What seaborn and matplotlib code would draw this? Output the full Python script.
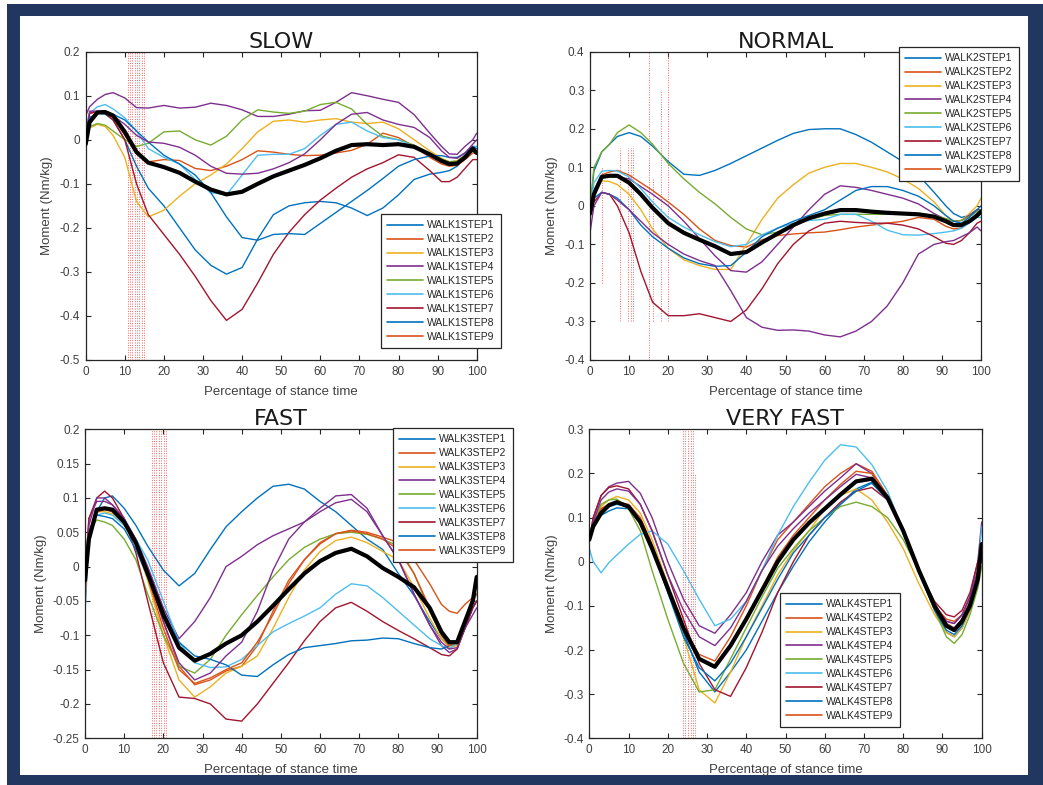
import matplotlib
matplotlib.use("Agg")
import matplotlib.pyplot as plt
from matplotlib.lines import Line2D
from matplotlib.patches import Rectangle
from matplotlib.ticker import FuncFormatter, MultipleLocator
import numpy as np
import pandas as pd
import seaborn as sns

# ---------------------------------------------------------------- data
# percentage of stance time at which every curve is sampled
PCT = [0, 1, 3, 5, 7, 10, 13, 16, 20, 24, 28, 32, 36, 40, 44, 48, 52, 56,
       60, 64, 68, 72, 76, 80, 84, 88, 91, 93, 95, 97, 99, 100]

# MATLAB default line colour order
MATLAB_ORDER = ["#0072BD", "#D95319", "#EDB120", "#7E2F8E",
                "#77AC30", "#4DBEEE", "#A2142F"]

# ---- SLOW (walk 1)
SLOW_MEAN = [-0.01, 0.04, 0.062, 0.063, 0.055, 0.018, -0.028, -0.052, -0.062, -0.075, -0.095, -0.113,
             -0.124, -0.118, -0.1, -0.083, -0.07, -0.057, -0.042, -0.025, -0.012, -0.01, -0.012, -0.01,
             -0.016, -0.033, -0.048, -0.055, -0.054, -0.04, -0.02, -0.03]
SLOW_STEPS = [
    [0.0, 0.05, 0.06, 0.058, 0.045, 0.0, -0.06, -0.11, -0.15, -0.2, -0.25, -0.285, -0.305, -0.29, -0.225,
     -0.17, -0.15, -0.143, -0.14, -0.143, -0.155, -0.172, -0.155, -0.125, -0.09, -0.078, -0.074, -0.07,
     -0.06, -0.04, -0.02, -0.02],
    [-0.01, 0.06, 0.063, 0.06, 0.05, 0.01, -0.03, -0.05, -0.045, -0.047, -0.065, -0.07, -0.06, -0.045,
     -0.025, -0.028, -0.033, -0.036, -0.035, -0.03, -0.024, -0.01, 0.015, 0.005, -0.015, -0.04, -0.055,
     -0.06, -0.058, -0.045, -0.03, -0.03],
    [0.02, 0.027, 0.035, 0.03, 0.01, -0.04, -0.14, -0.175, -0.16, -0.128, -0.1, -0.08, -0.055, -0.02,
     0.018, 0.042, 0.045, 0.04, 0.045, 0.048, 0.04, 0.037, 0.04, 0.025, 0.0, -0.025, -0.042, -0.05,
     -0.048, -0.035, -0.025, -0.025],
    [0.055, 0.075, 0.092, 0.103, 0.107, 0.095, 0.073, 0.072, 0.078, 0.072, 0.074, 0.083, 0.078, 0.068,
     0.053, 0.053, 0.058, 0.066, 0.067, 0.085, 0.107, 0.1, 0.092, 0.085, 0.057, 0.015, -0.015, -0.032,
     -0.033, -0.015, 0.0, 0.015],
    [0.02, 0.03, 0.037, 0.033, 0.02, 0.0, -0.015, -0.008, 0.018, 0.02, 0.0, -0.012, 0.008, 0.045, 0.068,
     0.063, 0.06, 0.065, 0.08, 0.085, 0.07, 0.035, 0.008, 0.0, -0.012, -0.032, -0.044, -0.05, -0.048,
     -0.035, -0.025, -0.03],
    [0.03, 0.06, 0.075, 0.08, 0.07, 0.05, 0.02, -0.02, -0.04, -0.055, -0.09, -0.12, -0.125, -0.08,
     -0.035, -0.033, -0.033, -0.02, 0.01, 0.035, 0.04, 0.02, 0.005, 0.0, -0.015, -0.035, -0.05, -0.055,
     -0.052, -0.035, -0.015, -0.015],
    [0.0, 0.06, 0.065, 0.06, 0.045, 0.0, -0.1, -0.17, -0.215, -0.26, -0.31, -0.365, -0.41, -0.385,
     -0.325, -0.26, -0.21, -0.17, -0.137, -0.11, -0.085, -0.066, -0.052, -0.034, -0.04, -0.07, -0.095,
     -0.095, -0.085, -0.065, -0.045, -0.045],
    [0.0, 0.05, 0.06, 0.062, 0.058, 0.045, 0.02, -0.005, -0.035, -0.055, -0.08, -0.12, -0.175, -0.222,
     -0.228, -0.215, -0.213, -0.215, -0.19, -0.165, -0.14, -0.115, -0.088, -0.06, -0.045, -0.037,
     -0.036, -0.04, -0.04, -0.03, -0.015, -0.02],
    [0.0, 0.065, 0.065, 0.065, 0.055, 0.035, 0.01, -0.005, -0.008, -0.017, -0.035, -0.06, -0.076,
     -0.078, -0.076, -0.066, -0.052, -0.032, 0.0, 0.035, 0.058, 0.062, 0.045, 0.035, 0.028, 0.005,
     -0.025, -0.04, -0.042, -0.03, -0.01, 0.0],
]
SLOW_COLOR_IDX = [0, 1, 2, 3, 4, 5, 6, 0, 3]
SLOW_EVENTS = [(10.7, -0.5, 0.2), (11.3, -0.5, 0.2), (11.9, -0.5, 0.2), (12.5, -0.5, 0.2),
               (13.1, -0.5, 0.2), (13.7, -0.5, 0.2), (14.3, -0.5, 0.2), (14.9, -0.5, 0.2)]

# ---- NORMAL (walk 2)
NORMAL_MEAN = [-0.02, 0.03, 0.075, 0.078, 0.078, 0.06, 0.03, -0.005, -0.045, -0.07, -0.088, -0.105,
               -0.125, -0.12, -0.095, -0.072, -0.05, -0.032, -0.02, -0.011, -0.011, -0.015, -0.018,
               -0.02, -0.022, -0.028, -0.04, -0.05, -0.05, -0.04, -0.025, -0.015]
NORMAL_STEPS = [
    [-0.01, 0.09, 0.14, 0.16, 0.18, 0.19, 0.18, 0.155, 0.115, 0.082, 0.079, 0.092, 0.11, 0.13, 0.15,
     0.17, 0.188, 0.198, 0.2, 0.2, 0.185, 0.165, 0.14, 0.115, 0.08, 0.035, 0.0, -0.02, -0.03, -0.025,
     -0.01, -0.01],
    [-0.02, 0.04, 0.08, 0.088, 0.092, 0.08, 0.06, 0.04, 0.01, -0.022, -0.06, -0.09, -0.103, -0.107,
     -0.088, -0.077, -0.073, -0.07, -0.068, -0.062, -0.055, -0.05, -0.045, -0.04, -0.03, -0.035,
     -0.053, -0.06, -0.058, -0.04, -0.02, -0.02],
    [-0.02, 0.04, 0.065, 0.063, 0.055, 0.03, -0.01, -0.06, -0.11, -0.14, -0.155, -0.165, -0.165, -0.1,
     -0.035, 0.02, 0.055, 0.085, 0.1, 0.11, 0.11, 0.1, 0.088, 0.07, 0.045, 0.01, -0.025, -0.04, -0.038,
     -0.02, 0.0, 0.02],
    [-0.02, 0.04, 0.075, 0.078, 0.075, 0.07, 0.05, 0.03, 0.0, -0.04, -0.085, -0.13, -0.168, -0.172,
     -0.145, -0.1, -0.055, -0.01, 0.03, 0.052, 0.048, 0.04, 0.03, 0.02, 0.005, -0.02, -0.035, -0.04,
     -0.038, -0.025, -0.01, -0.01],
    [-0.01, 0.1, 0.14, 0.16, 0.19, 0.21, 0.19, 0.16, 0.11, 0.07, 0.035, 0.005, -0.03, -0.06, -0.075,
     -0.068, -0.052, -0.036, -0.025, -0.022, -0.022, -0.022, -0.022, -0.022, -0.02, -0.025, -0.033,
     -0.04, -0.038, -0.028, -0.015, -0.01],
    [-0.02, 0.06, 0.09, 0.092, 0.09, 0.075, 0.045, 0.01, -0.03, -0.055, -0.075, -0.093, -0.106, -0.1,
     -0.075, -0.058, -0.045, -0.038, -0.035, -0.022, -0.022, -0.04, -0.063, -0.075, -0.076, -0.072,
     -0.068, -0.065, -0.058, -0.045, -0.03, -0.03],
    [-0.03, 0.01, 0.035, 0.03, 0.0, -0.07, -0.17, -0.25, -0.285, -0.285, -0.28, -0.29, -0.3, -0.27,
     -0.215, -0.15, -0.1, -0.065, -0.045, -0.04, -0.043, -0.045, -0.045, -0.05, -0.06, -0.08, -0.097,
     -0.1, -0.09, -0.07, -0.045, -0.04],
    [-0.02, 0.02, 0.035, 0.03, 0.02, -0.01, -0.05, -0.08, -0.11, -0.135, -0.15, -0.157, -0.155, -0.12,
     -0.08, -0.058, -0.04, -0.025, -0.01, 0.015, 0.04, 0.05, 0.05, 0.04, 0.025, 0.0, -0.025, -0.04,
     -0.045, -0.03, -0.01, 0.0],
    [-0.07, 0.0, 0.035, 0.03, 0.015, -0.01, -0.04, -0.07, -0.1, -0.125, -0.142, -0.155, -0.22, -0.29,
     -0.315, -0.323, -0.322, -0.325, -0.335, -0.34, -0.325, -0.3, -0.26, -0.2, -0.125, -0.1, -0.093,
     -0.09, -0.08, -0.07, -0.055, -0.065],
]
NORMAL_COLOR_IDX = [0, 1, 2, 3, 4, 5, 6, 0, 3]
NORMAL_EVENTS = [(3.0, -0.2, 0.1), (7.8, -0.3, 0.15), (9.8, -0.3, 0.15), (10.4, -0.3, 0.15),
                 (11.1, -0.3, 0.15), (15.1, -0.4, 0.4), (16.0, -0.3, 0.07), (18.1, -0.3, 0.3),
                 (20.0, -0.3, 0.4)]

# ---- FAST (walk 3)
FAST_MEAN = [-0.02, 0.04, 0.083, 0.085, 0.083, 0.065, 0.035, -0.01, -0.07, -0.118, -0.137, -0.127,
             -0.112, -0.1, -0.08, -0.057, -0.033, -0.01, 0.008, 0.02, 0.026, 0.015, -0.002, -0.015,
             -0.03, -0.06, -0.095, -0.11, -0.11, -0.08, -0.05, -0.015]
FAST_STEPS = [
    [-0.02, 0.05, 0.08, 0.1, 0.103, 0.085, 0.06, 0.03, -0.005, -0.028, -0.01, 0.025, 0.058, 0.08, 0.1,
     0.117, 0.12, 0.113, 0.095, 0.08, 0.06, 0.04, 0.025, -0.01, -0.042, -0.08, -0.105, -0.115, -0.113,
     -0.09, -0.06, -0.05],
    [-0.06, 0.05, 0.08, 0.085, 0.08, 0.065, 0.04, -0.01, -0.08, -0.145, -0.172, -0.165, -0.152, -0.145,
     -0.115, -0.065, -0.02, 0.01, 0.035, 0.048, 0.053, 0.05, 0.043, 0.035, 0.01, -0.025, -0.055,
     -0.065, -0.068, -0.055, -0.045, -0.04],
    [-0.05, 0.05, 0.08, 0.08, 0.077, 0.06, 0.03, -0.02, -0.1, -0.165, -0.19, -0.175, -0.155, -0.145,
     -0.13, -0.09, -0.045, -0.005, 0.022, 0.038, 0.043, 0.035, 0.022, 0.01, -0.03, -0.075, -0.105,
     -0.118, -0.115, -0.085, -0.05, -0.04],
    [-0.02, 0.07, 0.095, 0.095, 0.09, 0.07, 0.04, 0.0, -0.06, -0.105, -0.08, -0.045, 0.0, 0.015, 0.032,
     0.045, 0.055, 0.065, 0.08, 0.093, 0.098, 0.08, 0.045, 0.01, -0.04, -0.085, -0.115, -0.125, -0.12,
     -0.09, -0.06, -0.05],
    [-0.05, 0.05, 0.068, 0.065, 0.06, 0.04, 0.01, -0.04, -0.1, -0.145, -0.155, -0.135, -0.1, -0.07,
     -0.042, -0.015, 0.01, 0.028, 0.04, 0.048, 0.05, 0.047, 0.04, 0.03, -0.01, -0.065, -0.1, -0.115,
     -0.113, -0.08, -0.05, -0.04],
    [-0.07, 0.05, 0.075, 0.078, 0.075, 0.06, 0.04, 0.01, -0.05, -0.11, -0.14, -0.147, -0.146, -0.135,
     -0.115, -0.095, -0.083, -0.072, -0.06, -0.04, -0.025, -0.028, -0.045, -0.065, -0.085, -0.105,
     -0.115, -0.12, -0.11, -0.08, -0.05, -0.05],
    [-0.02, 0.07, 0.1, 0.11, 0.1, 0.07, 0.02, -0.05, -0.14, -0.19, -0.192, -0.2, -0.222, -0.225, -0.2,
     -0.17, -0.14, -0.108, -0.08, -0.06, -0.052, -0.065, -0.08, -0.093, -0.105, -0.118, -0.128, -0.13,
     -0.12, -0.09, -0.06, -0.05],
    [-0.03, 0.05, 0.075, 0.073, 0.07, 0.055, 0.025, -0.015, -0.065, -0.11, -0.13, -0.135, -0.143,
     -0.158, -0.16, -0.143, -0.128, -0.118, -0.115, -0.112, -0.108, -0.107, -0.104, -0.105, -0.112,
     -0.118, -0.12, -0.115, -0.11, -0.08, -0.045, -0.04],
    [-0.05, 0.05, 0.08, 0.083, 0.08, 0.065, 0.035, -0.015, -0.09, -0.15, -0.17, -0.162, -0.15, -0.14,
     -0.11, -0.07, -0.025, 0.01, 0.033, 0.048, 0.052, 0.048, 0.04, 0.025, -0.01, -0.06, -0.1, -0.115,
     -0.11, -0.08, -0.045, -0.04],
    [-0.02, 0.06, 0.1, 0.1, 0.09, 0.07, 0.035, -0.01, -0.08, -0.14, -0.165, -0.155, -0.13, -0.11,
     -0.065, -0.005, 0.04, 0.065, 0.085, 0.103, 0.105, 0.085, 0.045, 0.01, -0.04, -0.085, -0.11, -0.12,
     -0.118, -0.09, -0.07, -0.06],
]
FAST_COLOR_IDX = [0, 1, 2, 3, 4, 5, 6, 0, 1, 3]
FAST_EVENTS = [(17.0, -0.25, 0.2), (17.6, -0.25, 0.2), (18.2, -0.25, 0.2), (18.9, -0.25, 0.2),
               (19.5, -0.25, 0.2), (20.2, -0.25, 0.2), (20.8, -0.25, 0.2)]

# ---- VERY FAST (walk 4)
VFAST_MEAN = [0.05, 0.08, 0.11, 0.128, 0.135, 0.125, 0.09, 0.03, -0.06, -0.15, -0.22, -0.238, -0.19,
              -0.13, -0.065, 0.0, 0.05, 0.088, 0.12, 0.152, 0.182, 0.188, 0.145, 0.07, -0.02, -0.1,
              -0.145, -0.155, -0.135, -0.1, -0.04, 0.04]
VFAST_STEPS = [
    [0.05, 0.08, 0.105, 0.115, 0.122, 0.12, 0.09, 0.03, -0.06, -0.16, -0.25, -0.295, -0.25, -0.2,
     -0.135, -0.07, -0.01, 0.045, 0.09, 0.13, 0.165, 0.18, 0.14, 0.07, -0.02, -0.11, -0.16, -0.17,
     -0.15, -0.11, -0.04, 0.04],
    [0.05, 0.09, 0.12, 0.13, 0.135, 0.13, 0.1, 0.04, -0.06, -0.15, -0.21, -0.225, -0.17, -0.1, -0.02,
     0.05, 0.09, 0.13, 0.17, 0.2, 0.222, 0.205, 0.15, 0.07, -0.02, -0.1, -0.13, -0.135, -0.12, -0.08,
     -0.02, 0.03],
    [0.05, 0.09, 0.125, 0.14, 0.148, 0.14, 0.11, 0.05, -0.05, -0.17, -0.29, -0.32, -0.25, -0.17, -0.1,
     -0.03, 0.025, 0.07, 0.12, 0.15, 0.165, 0.14, 0.09, 0.03, -0.05, -0.12, -0.16, -0.17, -0.15, -0.11,
     -0.05, 0.03],
    [0.05, 0.1, 0.15, 0.17, 0.178, 0.182, 0.155, 0.1, 0.0, -0.085, -0.145, -0.162, -0.12, -0.07, 0.0,
     0.06, 0.09, 0.125, 0.16, 0.19, 0.222, 0.2, 0.14, 0.07, -0.02, -0.1, -0.135, -0.14, -0.12, -0.08,
     0.0, 0.09],
    [0.05, 0.09, 0.13, 0.14, 0.142, 0.12, 0.07, -0.02, -0.13, -0.23, -0.295, -0.29, -0.22, -0.15,
     -0.08, -0.015, 0.03, 0.07, 0.1, 0.125, 0.135, 0.125, 0.1, 0.05, -0.02, -0.11, -0.17, -0.185,
     -0.165, -0.12, -0.06, -0.01],
    [0.03, 0.0, -0.025, -0.002, 0.015, 0.04, 0.062, 0.07, 0.04, -0.02, -0.085, -0.145, -0.13, -0.09,
     -0.02, 0.06, 0.125, 0.18, 0.23, 0.265, 0.26, 0.22, 0.16, 0.07, -0.02, -0.095, -0.14, -0.15, -0.13,
     -0.09, -0.02, 0.08],
    [0.05, 0.1, 0.15, 0.168, 0.172, 0.165, 0.13, 0.07, -0.03, -0.13, -0.23, -0.29, -0.305, -0.24,
     -0.16, -0.07, 0.0, 0.06, 0.1, 0.135, 0.16, 0.168, 0.14, 0.07, -0.02, -0.09, -0.12, -0.125, -0.11,
     -0.07, 0.0, 0.03],
    [0.05, 0.085, 0.115, 0.125, 0.13, 0.125, 0.09, 0.03, -0.07, -0.17, -0.24, -0.27, -0.23, -0.17,
     -0.105, -0.04, 0.02, 0.06, 0.1, 0.13, 0.16, 0.178, 0.14, 0.07, -0.025, -0.11, -0.155, -0.165,
     -0.145, -0.1, -0.04, 0.03],
    [0.05, 0.085, 0.12, 0.13, 0.133, 0.125, 0.09, 0.03, -0.06, -0.15, -0.22, -0.238, -0.19, -0.13,
     -0.06, 0.01, 0.06, 0.1, 0.14, 0.175, 0.205, 0.2, 0.15, 0.07, -0.02, -0.1, -0.14, -0.15, -0.13,
     -0.09, -0.03, 0.03],
    [0.05, 0.09, 0.14, 0.158, 0.165, 0.16, 0.13, 0.07, -0.03, -0.11, -0.17, -0.19, -0.15, -0.09, -0.02,
     0.035, 0.075, 0.11, 0.14, 0.17, 0.198, 0.19, 0.14, 0.07, -0.02, -0.1, -0.135, -0.14, -0.12, -0.08,
     -0.02, 0.03],
]
VFAST_COLOR_IDX = [0, 1, 2, 3, 4, 5, 6, 0, 1, 3]
VFAST_EVENTS = [(24.0, -0.4, 0.3), (24.5, -0.4, 0.3), (25.2, -0.4, 0.3), (25.8, -0.4, 0.3),
                (26.4, -0.4, 0.3), (27.0, -0.4, 0.2)]

TITLES = ["SLOW", "NORMAL", "FAST", "VERY FAST"]
YLIMS = [(-0.5, 0.2), (-0.4, 0.4), (-0.25, 0.2), (-0.4, 0.3)]
YSTEPS = [0.1, 0.1, 0.05, 0.1]
N_LEGEND_STEPS = 9

# ---------------------------------------------------------------- style
sns.set_theme(style="ticks")
plt.rcParams["font.family"] = ["Liberation Sans", "DejaVu Sans"]
plt.rcParams["axes.unicode_minus"] = False

W, H = 1043, 785
fig = plt.figure(figsize=(W / 100, H / 100), dpi=100)
fig.patch.set_facecolor("white")

def fx(px):
    return px / W

def fy(py):
    return 1 - py / H

# navy frame around the white page
fig.patches.append(Rectangle((fx(7), 0), 1 - fx(7), fy(4), transform=fig.transFigure,
                             facecolor="#21375F", edgecolor="none", zorder=-10))
fig.patches.append(Rectangle((fx(20), fy(775)), fx(1028) - fx(20), fy(16) - fy(775),
                             transform=fig.transFigure, facecolor="white", edgecolor="none",
                             zorder=-9))

# axes boxes in pixels: left, top, right, bottom
BOXES = [(85.7, 51.7, 476.7, 360.0), (590.0, 51.7, 981.0, 360.0),
         (85.0, 429.3, 476.7, 738.3), (589.3, 429.3, 981.7, 738.3)]
YLABEL_X = [-0.084, -0.082, -0.097, -0.080]
# legend upper-left corners in pixels
LEGEND_UL = [(381, 214), (899, 47), (393, 428), (780, 593)]

panels = [
    (SLOW_MEAN, SLOW_STEPS, SLOW_COLOR_IDX, SLOW_EVENTS),
    (NORMAL_MEAN, NORMAL_STEPS, NORMAL_COLOR_IDX, NORMAL_EVENTS),
    (FAST_MEAN, FAST_STEPS, FAST_COLOR_IDX, FAST_EVENTS),
    (VFAST_MEAN, VFAST_STEPS, VFAST_COLOR_IDX, VFAST_EVENTS),
]

fmt = FuncFormatter(lambda v, _: "%g" % round(v, 4))

for k, (mean, steps, cidx, events) in enumerate(panels):
    l, t, r, b = BOXES[k]
    ax = fig.add_axes([fx(l), fy(b), fx(r) - fx(l), fy(t) - fy(b)])
    ax.set_facecolor("white")

    # heel-strike / event markers
    for xe, lo, hi in events:
        ax.vlines(xe, lo, hi, colors="#FF3030", linestyles=(0, (1, 1.5)), linewidth=0.7,
                  alpha=0.75, zorder=1)

    # individual steps
    rows = []
    for i, vals in enumerate(steps):
        for p, v in zip(PCT, vals):
            rows.append({"pct": p, "moment": v, "trace": i})
    df = pd.DataFrame(rows)
    palette = {i: MATLAB_ORDER[c] for i, c in enumerate(cidx)}
    sns.lineplot(data=df, x="pct", y="moment", hue="trace", palette=palette,
                 estimator=None, sort=False, legend=False, linewidth=1.0, ax=ax, zorder=2)

    # mean curve
    sns.lineplot(x=PCT, y=mean, color="black", linewidth=3.0, estimator=None, sort=False,
                 legend=False, ax=ax, zorder=3)

    ax.set_xlim(0, 100)
    ax.set_ylim(*YLIMS[k])
    ax.xaxis.set_major_locator(MultipleLocator(10))
    ax.yaxis.set_major_locator(MultipleLocator(YSTEPS[k]))
    ax.yaxis.set_major_formatter(fmt)
    ax.xaxis.set_major_formatter(fmt)
    ax.tick_params(direction="in", length=3.5, width=0.8, top=True, right=True,
                   labelsize=8.5, labelcolor="#404040", color="#262626", pad=4)
    for sp in ax.spines.values():
        sp.set_visible(True)
        sp.set_color("#262626")
        sp.set_linewidth(0.9)

    ax.set_title(TITLES[k], fontsize=16, color="#1a1a1a", pad=3,
                 fontfamily=["DejaVu Sans"])
    ax.set_xlabel("Percentage of stance time", fontsize=9.5, color="#404040")
    ax.set_ylabel("Moment (Nm/kg)", fontsize=9.5, color="#404040")
    ax.xaxis.set_label_coords(0.5, -0.083)
    ax.yaxis.set_label_coords(YLABEL_X[k], 0.5)

    handles = [Line2D([0], [0], color=MATLAB_ORDER[i % 7], linewidth=1.2)
               for i in range(N_LEGEND_STEPS)]
    labels = [f"WALK{k + 1}STEP{i + 1}" for i in range(N_LEGEND_STEPS)]
    ux, uy = LEGEND_UL[k]
    leg = ax.legend(handles, labels, loc="upper left", bbox_to_anchor=(fx(ux), fy(uy)),
                    bbox_transform=fig.transFigure, borderaxespad=0, fontsize=7.5,
                    handlelength=3.4, handletextpad=0.45, labelspacing=0.38,
                    borderpad=0.6, frameon=True, fancybox=False, framealpha=1,
                    edgecolor="#262626")
    leg.get_frame().set_linewidth(0.9)
    leg.set_zorder(5)

fig.savefig("out.png", dpi=100, facecolor="white")
